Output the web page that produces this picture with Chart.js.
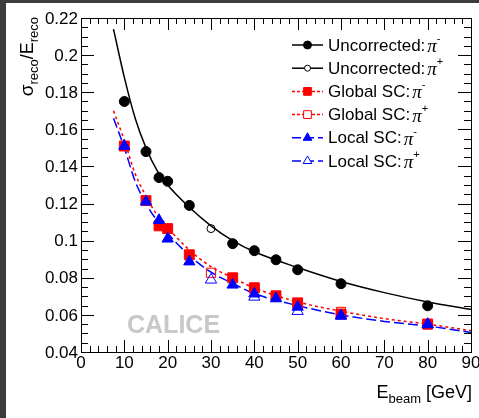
<!DOCTYPE html>
<html>
<head>
<meta charset="utf-8">
<script src="https://cdn.jsdelivr.net/npm/chart.js@4.4.0/dist/chart.umd.min.js"></script>
<style>
html, body { margin: 0; padding: 0; width: 479px; height: 418px; overflow: hidden; background: #3c3c3c; }
#wrap { position: absolute; left: 6px; top: 3px; width: 473px; height: 415px; background: #fff; }
</style>
</head>
<body>
<div id="wrap"><canvas id="chart" width="473" height="415"></canvas></div>
<script>
// Measured points (pi-)
const eMinus = [10, 15, 18, 20, 25, 35, 40, 45, 50, 60, 80];
const uncorrMinus = [0.175, 0.148, 0.134, 0.132, 0.119, 0.0984, 0.0946, 0.0897, 0.0843, 0.0768, 0.0649];
const globalMinus = [0.151, 0.1216, 0.108, 0.1065, 0.0924, 0.080, 0.0746, 0.0703, 0.0665, 0.0605, 0.0551];
const localMinus = [0.151, 0.121, 0.111, 0.101, 0.0887, 0.0762, 0.0714, 0.0688, 0.0643, 0.0595, 0.055];

// Measured points (pi+)
const uncorrPlusE = [30];
const uncorrPlus = [0.1065];
const ePlus = [30, 40, 50, 60, 80];
const globalPlus = [0.0827, 0.0746, 0.0655, 0.0616, 0.0548];
const localPlus = [0.0789, 0.0697, 0.062, 0.0595, 0.0548];

// Fit curves
const curveE = [7.5, 10, 12.5, 15, 17.5, 20, 25, 30, 35, 40, 50, 60, 70, 80, 90];
const uncorrCurve = [0.214, 0.188, 0.166, 0.150, 0.138, 0.130, 0.118, 0.108, 0.100, 0.094, 0.0855, 0.078, 0.072, 0.067, 0.063];
const globalCurve = [0.170, 0.154, 0.136, 0.124, 0.114, 0.107, 0.095, 0.086, 0.080, 0.0745, 0.067, 0.062, 0.058, 0.055, 0.0515];
const localCurve = [0.166, 0.150, 0.132, 0.120, 0.111, 0.104, 0.092, 0.083, 0.077, 0.0715, 0.065, 0.060, 0.0565, 0.054, 0.0505];

// Axis ticks
const xMajor = [0, 10, 20, 30, 40, 50, 60, 70, 80, 90];
const yMajor = [0.04, 0.06, 0.08, 0.1, 0.12, 0.14, 0.16, 0.18, 0.2, 0.22];
const yLabels = ['0.04', '0.06', '0.08', '0.1', '0.12', '0.14', '0.16', '0.18', '0.2', '0.22'];

const RED = '#ff0000';
const BLUE = '#0000ff';
const FONT = '"Liberation Sans", Arial, sans-serif';

function xy(xs, ys) {
    return xs.map((x, i) => ({ x: x, y: ys[i] }));
}

function curve(data, color, dash, order) {
    return {
        type: 'line', data: data, borderColor: color, borderWidth: 1.5,
        borderDash: dash, pointRadius: 0, fill: false,
        cubicInterpolationMode: 'monotone', order: order
    };
}

function markers(data, style, radius, color, filled, order) {
    return {
        type: 'scatter', data: data, pointStyle: style, pointRadius: radius,
        pointBorderColor: color, pointBackgroundColor: filled ? color : 'rgba(0,0,0,0)',
        pointBorderWidth: 1, showLine: false, order: order
    };
}

// Legend entries drawn ROOT style
const legendItems = [
    { text: 'Uncorrected:', sign: '-', color: '#000', dash: [], style: 'circle', r: 4, filled: true },
    { text: 'Uncorrected:', sign: '+', color: '#000', dash: [], style: 'circle', r: 3, filled: false },
    { text: 'Global SC:', sign: '-', color: RED, dash: [3, 2], style: 'rect', r: 5.5, filled: true },
    { text: 'Global SC:', sign: '+', color: RED, dash: [3, 2], style: 'rect', r: 5.5, filled: false },
    { text: 'Local SC:', sign: '-', color: BLUE, dash: [9, 4], style: 'triangle', r: 5, filled: true },
    { text: 'Local SC:', sign: '+', color: BLUE, dash: [9, 4], style: 'triangle', r: 5, filled: false }
];

const frame = {
    id: 'frame',
    beforeDatasetsDraw(chart) {
        const ctx = chart.ctx;
        ctx.save();
        ctx.fillStyle = '#c8c8c8';
        ctx.font = 'bold 25px ' + FONT;
        ctx.textBaseline = 'alphabetic';
        ctx.fillText('CALICE', 121, 330);
        ctx.restore();
    },
    afterDraw(chart) {
        const ctx = chart.ctx;
        const a = chart.chartArea;
        const xs = chart.scales.x;
        const ys = chart.scales.y;
        ctx.save();
        ctx.strokeStyle = '#000';
        ctx.lineWidth = 1;
        ctx.strokeRect(Math.round(a.left) + 0.5, Math.round(a.top) + 0.5,
            Math.round(a.right - a.left), Math.round(a.bottom - a.top));

        // x ticks, bottom and top
        ctx.beginPath();
        for (let v = 0; v <= 90; v += 2) {
            const px = Math.round(xs.getPixelForValue(v)) + 0.5;
            const len = v % 10 === 0 ? 12 : 6;
            ctx.moveTo(px, a.bottom); ctx.lineTo(px, a.bottom - len);
            ctx.moveTo(px, a.top); ctx.lineTo(px, a.top + len);
        }
        // y ticks, left and right
        for (let k = 0; k <= 36; k++) {
            const v = 0.04 + k * 0.005;
            const py = Math.round(ys.getPixelForValue(v)) + 0.5;
            const len = k % 4 === 0 ? 13 : 7;
            ctx.moveTo(a.left, py); ctx.lineTo(a.left + len, py);
            ctx.moveTo(a.right, py); ctx.lineTo(a.right - len, py);
        }
        ctx.stroke();

        // tick labels
        ctx.fillStyle = '#000';
        ctx.font = '17px ' + FONT;
        ctx.textAlign = 'right';
        ctx.textBaseline = 'middle';
        yMajor.forEach((v, i) => ctx.fillText(yLabels[i], a.left - 3, ys.getPixelForValue(v) + 1));
        ctx.textAlign = 'center';
        ctx.textBaseline = 'alphabetic';
        xMajor.forEach(v => ctx.fillText(String(v), xs.getPixelForValue(v), a.bottom + 16));

        // x title
        ctx.textAlign = 'left';
        const parts = [['E', 18, 0], ['beam', 13, 5], [' [GeV]', 18, 0]];
        let w = 0;
        parts.forEach(p => { ctx.font = p[1] + 'px ' + FONT; w += ctx.measureText(p[0]).width; });
        let x = a.right + 1 - w;
        parts.forEach(p => {
            ctx.font = p[1] + 'px ' + FONT;
            ctx.fillText(p[0], x, 395 + p[2]);
            x += ctx.measureText(p[0]).width;
        });

        // y title, rotated
        ctx.save();
        ctx.translate(27, 14);
        ctx.rotate(-Math.PI / 2);
        const yparts = [['\u03c3', 19, 0], ['reco', 13, 5], ['/E', 18, 0], ['reco', 13, 5]];
        w = 0;
        yparts.forEach(p => { ctx.font = p[1] + 'px ' + FONT; w += ctx.measureText(p[0]).width; });
        x = -w;
        yparts.forEach(p => {
            ctx.font = p[1] + 'px ' + FONT;
            ctx.fillText(p[0], x, p[2]);
            x += ctx.measureText(p[0]).width;
        });
        ctx.restore();

        // legend
        legendItems.forEach((it, i) => {
            const y = 42 + i * 23.2;
            ctx.save();
            ctx.strokeStyle = it.color;
            ctx.lineWidth = 1.5;
            ctx.setLineDash(it.dash);
            ctx.beginPath();
            ctx.moveTo(286, y); ctx.lineTo(317, y);
            ctx.stroke();
            ctx.restore();
            ctx.save();
            ctx.fillStyle = it.filled ? it.color : '#fff';
            ctx.strokeStyle = it.color;
            ctx.lineWidth = 1;
            Chart.helpers.drawPoint(ctx, { pointStyle: it.style, radius: it.r, borderWidth: 1 }, 301.5, y);
            ctx.restore();
            ctx.fillStyle = '#000';
            ctx.font = '17px ' + FONT;
            ctx.textBaseline = 'middle';
            ctx.fillText(it.text, 322, y + 1);
            let tx = 322 + ctx.measureText(it.text).width + 2;
            ctx.font = 'italic 19px "Liberation Serif", serif';
            ctx.fillText('\u03c0', tx, y + 2);
            tx += ctx.measureText('\u03c0').width;
            ctx.font = '11px ' + FONT;
            ctx.fillText(it.sign, tx, y - 6);
        });
        ctx.restore();
    }
};

const ctx = document.getElementById('chart').getContext('2d');
new Chart(ctx, {
    data: {
        datasets: [
            markers(xy(eMinus, localMinus), 'triangle', 6.5, BLUE, true, 1),
            markers(xy(ePlus, localPlus), 'triangle', 6.5, BLUE, false, 2),
            markers(xy(eMinus, globalMinus), 'rect', 7, RED, true, 3),
            markers(xy(ePlus, globalPlus), 'rect', 6.5, RED, false, 4),
            markers(xy(eMinus, uncorrMinus), 'circle', 5, '#000', true, 5),
            markers(xy(uncorrPlusE, uncorrPlus), 'circle', 4, '#000', false, 6),
            curve(xy(curveE, localCurve), BLUE, [10, 4], 7),
            curve(xy(curveE, globalCurve), RED, [3, 3], 8),
            curve(xy(curveE, uncorrCurve), '#000', [], 9)
        ]
    },
    options: {
        responsive: false,
        animation: false,
        layout: { padding: { left: 75, top: 15, right: 8, bottom: 66 } },
        scales: {
            x: { type: 'linear', min: 0, max: 90, display: false },
            y: { type: 'linear', min: 0.04, max: 0.22, display: false }
        },
        plugins: {
            legend: { display: false },
            tooltip: { enabled: false }
        }
    },
    plugins: [frame]
});
</script>
</body>
</html>
